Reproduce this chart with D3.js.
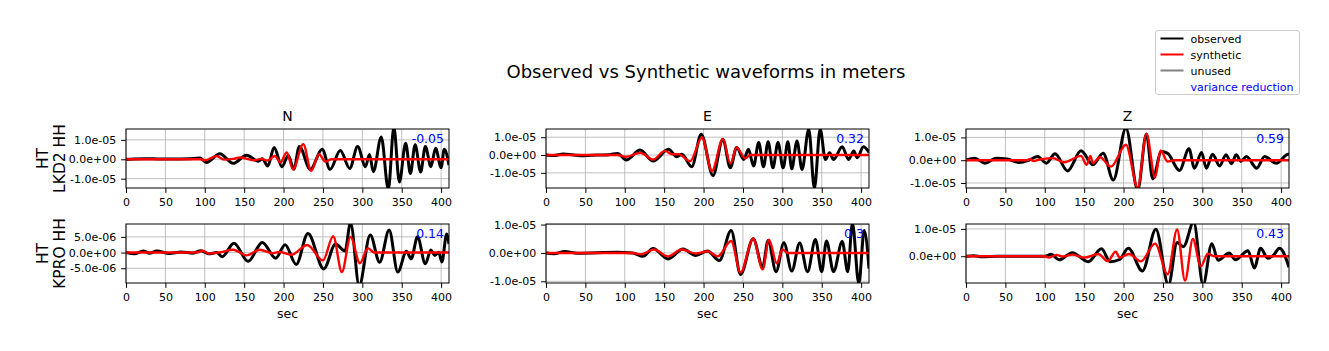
<!DOCTYPE html>
<html>
<head>
<meta charset="utf-8">
<script src="https://cdn.jsdelivr.net/npm/d3@7"></script>
<style>
  body { margin: 0; background: #fff; }
  svg { font-family: "DejaVu Sans", sans-serif; }
</style>
</head>
<body>
<div id="chart"></div>
<script>
// amplitudes are in micrometres (1e-6 m), time in seconds
const components = ["N", "E", "Z"];
const stations = [["HT", "LKD2 HH"], ["HT", "KPRO HH"]];
const xTicks = [0, 50, 100, 150, 200, 250, 300, 350, 400];

const obsLKD2N = [[0,0],[10,0.2],[25,0.3],[40,0.2],[60,0.1],[80,0.3],[94,0.6],[102,-1.6],[119,2.8],[136,-2.1],[153,2.1],[168,-1.0],[173,0.3],[180,-3.5],[188,6.1],[198,-3.8],[206,2.0],[213,-5.2],[220,6.6],[234,-5.2],[249,5.2],[259,-5.2],[272,4.5],[284,-4.7],[294,6.6],[304,-3.8],[309,2.5],[314,-6.4],[324,11.5],[333,-15.5],[340,16.5],[347,-11.7],[355,8.3],[361,-7.3],[367,7.5],[374,-6.5],[380,6.6],[387,-3.8],[393,5.7],[400,-4.3],[404,5.2],[410,-3.0]];
const synLKD2N = [[0,0],[95,0],[100,-0.5],[115,1.6],[125,-0.2],[136,0.2],[145,0.9],[162,-0.5],[172,0.2],[179,-0.7],[189,1.7],[196,-1.7],[204,3.5],[212,-5.2],[225,7.8],[235,-6.0],[245,2.6],[253,-1.2],[261,0],[410,0]];

const obsLKD2E = [[0,0],[10,-0.3],[22,0.6],[35,0],[48,-0.4],[65,0],[80,0.2],[91,0.9],[102,-2.8],[119.5,2.8],[136,-3.4],[155.5,3.2],[166,-0.9],[172.5,0.4],[185,-6.6],[197,11.7],[212,-11.5],[224.5,8.9],[234,-7.2],[242,4.2],[251,-2.5],[257,3.2],[263.5,-6.2],[270,7.0],[276,-6.6],[282,7.4],[288,-7.2],[294.5,7.0],[301,-7.2],[307,7.4],[312,-7.7],[318.6,7.9],[325,-8.1],[333.5,14.5],[340.7,-18.5],[348,14.5],[354.7,-2.5],[360,1.3],[365,-2.5],[376,4.7],[384,-2.5],[390.7,2.3],[395,-1.5],[403,4.7],[410,1.5]];
const synLKD2E = [[0,0],[90,0],[102,-1.0],[119.5,1.3],[136,-2.5],[151,2.3],[160,0.4],[168,0.5],[183,-3.4],[198,9.8],[210.6,-9.0],[224.5,8.9],[234,-4.7],[242,4.2],[253,-1.9],[259,0],[410,0]];

const obsLKD2Z = [[0,0],[11,0.9],[24,-1.3],[38,0.9],[52,0.5],[68,-1.0],[80,0],[91,1.6],[102,-1.3],[113,2.8],[129,-4.7],[146,4.1],[161,-2.0],[174,3.1],[187,-8.7],[203,14.0],[218,-13.0],[229,11.5],[237,-8.2],[248,3.8],[256,3.0],[271,-4.5],[283,5.0],[290,-3.5],[299,3.4],[305,-3.5],[313,2.6],[322,-2.5],[330,2.4],[337,-1.5],[343,2.4],[349,-0.5],[356,1.6],[369,-3.5],[379,1.6],[394,-1.3],[409,2.6],[410,2.6]];
const synLKD2Z = [[0,0],[78,0],[81,0.6],[86,-0.4],[92,0.2],[110,0.9],[125,-0.9],[146,1.9],[153,-2.0],[158,1.9],[161,-1.3],[170,1.3],[184,-2.8],[203,6.8],[218,-12.0],[229,11.5],[240,-7.6],[247,4.3],[256,-0.6],[265,0],[410,0]];

const obsKPRON = [[0,0],[11,-0.4],[22,0.5],[30,-0.2],[39,0.5],[55,-0.3],[70,0.2],[85,-0.2],[95,0.6],[105,-0.4],[115,0],[122,-1.3],[137,3.0],[155,-2.8],[173,3.2],[190,-1.8],[202,2.5],[216,-3.8],[231,6.1],[251,-5.2],[266,2.7],[278,0.5],[285,9.5],[296,-10.5],[310,5.6],[322,-3.1],[334,7.2],[345,-6.2],[356,0.4],[362,-2.0],[370,5.0],[380,-3.6],[387,0.8],[392,-0.9],[397,0.1],[401,-3.0],[407,5.9],[410,2.7]];
const synKPRON = [[0,0],[90,0],[97,0.6],[105,-0.3],[120,0.1],[136,0.9],[153,-0.9],[170,0.9],[185,-0.2],[195,0.2],[210,-0.7],[230,2.4],[250,-2.5],[263,5.2],[274,-6.2],[285,5.0],[297,-3.4],[307,1.4],[315,0],[410,0]];

const obsKPROE = [[0,0],[10,-0.3],[24,0.5],[40,-0.1],[90,0.2],[110,0],[123,-1.2],[136,1.6],[155,-2.1],[174,1.4],[190,-0.9],[205,0.7],[220,-2.7],[235,7.9],[247,-7.6],[263,5.0],[275,-4.9],[282,4.4],[292,-6.6],[302,3.6],[312,-6.4],[322,3.5],[332,-6.6],[342,4.7],[350,-6.6],[356,4.2],[365,-6.6],[376,4.0],[383,-6.6],[389,10.5],[397,-10.8],[404,7.9],[410,-5.5]];
const synKPROE = [[0,0],[110,0],[120,-0.5],[137,1.2],[155,-1.2],[172,1.2],[190,-0.2],[205,0.6],[218,-1.2],[235,4.2],[247,-6.9],[263,5.0],[275,-5.8],[283,4.7],[293,-3.7],[300,1.2],[307,0],[410,0]];

const obsKPROZ = [[0,0],[10,0.2],[20,-0.2],[40,0],[100,0],[108,0.7],[118,-1.3],[135,1.3],[155,-2.0],[172,2.7],[183,-2.0],[195,-1.2],[206,2.9],[224,-5.4],[241,9.9],[257,-10.5],[268,5.0],[276,3.5],[289,12.5],[301,-10.5],[312,4.6],[320,-1.5],[334,1.2],[342,-1.3],[358,2.0],[366,-4.3],[374,2.9],[383,-0.7],[390,0.3],[398,2.9],[410,-4.0]];
const synKPROZ = [[0,0],[100,0],[105,-0.5],[115,0.5],[122,-0.1],[135,0.6],[150,-0.5],[168,0.8],[180,-1.8],[190,1.7],[195,-0.5],[207,0.8],[222,-1.9],[240,4.6],[256,-6.6],[268,9.8],[278,-8.9],[288,6.3],[298,-3.7],[307,0.9],[315,0],[410,0]];

const varianceReduction = [["-0.05", "0.32", "0.59"], ["0.14", "0.3", "0.43"]];
const yDomains = [[[-14.8, 15.6], [-18.5, 14.6], [-12.2, 13.7]], [[-9.7, 9.1], [-10.6, 10.2], [-9.8, 11.8]]];
const yTicks = [
  [[-10, 0, 10], [-10, 0, 10], [-10, 0, 10]],
  [[-5, 0, 5], [-10, 0, 10], [0, 10]],
];
const yTickLabels = { "-10": "-1.0e-05", "-5": "-5.0e-06", "0": "0.0e+00", "5": "5.0e-06", "10": "1.0e-05" };
const legendItems = ["observed", "synthetic", "unused", "variance reduction"];

const observed = [[obsLKD2N, obsLKD2E, obsLKD2Z], [obsKPRON, obsKPROE, obsKPROZ]];
const synthetic = [[synLKD2N, synLKD2E, synLKD2Z], [synKPRON, synKPROE, synKPROZ]];

const width = 1329, height = 351;
const colLeft = [126, 546, 966];
const rowTop = [129, 224];
const pw = 323, ph = 59;

const svg = d3.select("#chart").append("svg").attr("width", width).attr("height", height);

svg.append("text")
  .attr("x", 706).attr("y", 78)
  .attr("text-anchor", "middle")
  .attr("font-size", 18)
  .text("Observed vs Synthetic waveforms in meters");

const x = d3.scaleLinear().domain([0, 410]).range([0, pw]);

stations.forEach((st, r) => {
  // station label on the left
  const lab = svg.append("text")
    .attr("transform", `translate(0, ${rowTop[r] + ph / 2}) rotate(-90)`)
    .attr("text-anchor", "middle")
    .attr("font-size", 15.5);
  lab.append("tspan").attr("x", 0).attr("y", 48).text(st[0]);
  lab.append("tspan").attr("x", 0).attr("y", 65).text(st[1]);

  components.forEach((comp, c) => {
    const g = svg.append("g").attr("transform", `translate(${colLeft[c]}, ${rowTop[r]})`);
    const y = d3.scaleLinear().domain(yDomains[r][c]).range([ph, 0]);
    const clipId = `clip-${r}-${c}`;
    g.append("clipPath").attr("id", clipId).append("rect").attr("width", pw).attr("height", ph);

    // grid
    g.append("g").selectAll("line").data(xTicks).join("line")
      .attr("x1", (d) => x(d)).attr("x2", (d) => x(d))
      .attr("y1", 0).attr("y2", ph)
      .attr("stroke", "#b0b0b0").attr("stroke-width", 0.8);
    g.append("g").selectAll("line").data(yTicks[r][c]).join("line")
      .attr("x1", 0).attr("x2", pw)
      .attr("y1", (d) => y(d)).attr("y2", (d) => y(d))
      .attr("stroke", "#b0b0b0").attr("stroke-width", 0.8);

    const line = d3.line().x((d) => x(d[0])).y((d) => y(d[1])).curve(d3.curveMonotoneX);
    const lines = g.append("g").attr("clip-path", `url(#${clipId})`);
    lines.append("path").datum(observed[r][c]).attr("d", line)
      .attr("fill", "none").attr("stroke", "black").attr("stroke-width", 3);
    lines.append("path").datum(synthetic[r][c]).attr("d", line)
      .attr("fill", "none").attr("stroke", "red").attr("stroke-width", 2.4);

    g.append("rect").attr("width", pw).attr("height", ph)
      .attr("fill", "none").attr("stroke", "black").attr("stroke-width", 1);

    const xa = g.append("g").attr("transform", `translate(0, ${ph})`)
      .call(d3.axisBottom(x).tickValues(xTicks).tickSize(4.9).tickPadding(4.9).tickSizeOuter(0));
    const ya = g.append("g")
      .call(d3.axisLeft(y).tickValues(yTicks[r][c]).tickFormat((d) => yTickLabels[d]).tickSize(4.9).tickPadding(4.9).tickSizeOuter(0));
    [xa, ya].forEach((a) => {
      a.select(".domain").remove();
      a.selectAll("text").attr("font-size", 11).attr("font-family", "DejaVu Sans").attr("fill", "#000");
      a.selectAll("line").attr("stroke", "#000");
    });

    g.append("text")
      .attr("x", pw - 5).attr("y", 14)
      .attr("text-anchor", "end")
      .attr("font-size", 12.5).attr("fill", "blue")
      .text(varianceReduction[r][c]);

    if (r === 0) {
      g.append("text").attr("x", pw / 2).attr("y", -8)
        .attr("text-anchor", "middle").attr("font-size", 14).text(comp);
    } else {
      g.append("text").attr("x", pw / 2).attr("y", ph + 35)
        .attr("text-anchor", "middle").attr("font-size", 12.5).text("sec");
    }
  });
});

// legend
const leg = svg.append("g").attr("transform", "translate(1155.5, 30.5)");
leg.append("rect").attr("width", 144).attr("height", 64).attr("rx", 2.5)
  .attr("fill", "white").attr("stroke", "#cccccc");
const legColors = ["black", "red", "gray", null];
legendItems.forEach((name, i) => {
  const yy = 8 + i * 16;
  if (legColors[i]) {
    leg.append("line").attr("x1", 5).attr("x2", 28).attr("y1", yy).attr("y2", yy)
      .attr("stroke", legColors[i]).attr("stroke-width", 2);
  }
  leg.append("text").attr("x", 35).attr("y", yy + 4)
    .attr("font-size", 11).attr("fill", i === 3 ? "blue" : "#000").text(name);
});
</script>
</body>
</html>
